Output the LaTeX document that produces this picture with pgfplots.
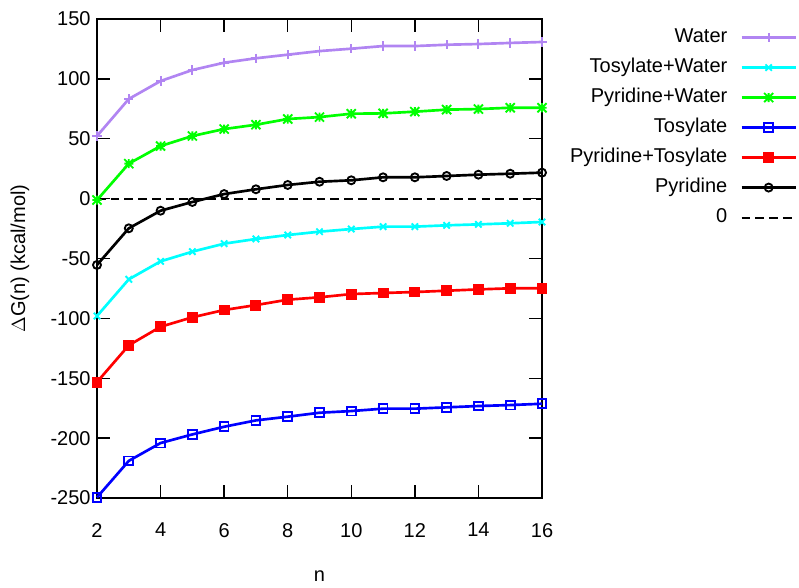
\documentclass[border=0pt]{standalone}
\usepackage{fontspec}
\setmainfont{Liberation Sans}
\usepackage{pgfplots}
\pgfplotsset{compat=1.18}
\definecolor{cWater}{HTML}{B185F2}
\definecolor{cCyan}{HTML}{00FFFF}
\definecolor{cGreen}{HTML}{00FF00}
\definecolor{cBlue}{HTML}{0000FF}
\definecolor{cRed}{HTML}{FF0000}

% gnuplot style star: plus and cross together
\pgfdeclareplotmark{gpstar}{%
  \pgfpathmoveto{\pgfpoint{-\pgfplotmarksize}{0pt}}\pgfpathlineto{\pgfpoint{\pgfplotmarksize}{0pt}}%
  \pgfpathmoveto{\pgfpoint{0pt}{-\pgfplotmarksize}}\pgfpathlineto{\pgfpoint{0pt}{\pgfplotmarksize}}%
  \pgfpathmoveto{\pgfpoint{-\pgfplotmarksize}{-\pgfplotmarksize}}\pgfpathlineto{\pgfpoint{\pgfplotmarksize}{\pgfplotmarksize}}%
  \pgfpathmoveto{\pgfpoint{-\pgfplotmarksize}{\pgfplotmarksize}}\pgfpathlineto{\pgfpoint{\pgfplotmarksize}{-\pgfplotmarksize}}%
  \pgfusepathqstroke}

\newcommand{\lblfont}{\fontsize{15}{18}\selectfont}

\begin{document}
\begin{tikzpicture}
\begin{axis}[
  at={(0,0)},anchor=south west,
  scale only axis,width=333.75pt,height=359.25pt,
  xmin=2,xmax=16,ymin=-250,ymax=150,
  xtick={2,4,...,16},ytick={-250,-200,...,150},
  tick align=inside,major tick length=9.4pt,
  tick style={black,line width=0.9pt},
  axis line style={black,line width=1pt},
  /pgf/number format/assume math mode=true,
  tick label style={font=\lblfont},
  xticklabel style={yshift=-15.3pt},
  yticklabel style={xshift=-1.3pt},
  xlabel={n},ylabel={$\Delta$G(n) (kcal/mol)},
  label style={font=\lblfont},
  xlabel style={at={(axis description cs:0.5,-0.163)},anchor=center},
  ylabel style={at={(axis description cs:-0.173,0.5)},anchor=center},
  legend plot pos=right,legend cell align=right,
  legend style={font=\lblfont,draw=none,fill=none,
    at={(axis description cs:1.573,0.980)},anchor=north east,
    inner sep=0pt,outer sep=0pt,
    nodes={inner sep=0pt,text height=10.5pt,text depth=3pt},
    row sep=9pt,column sep=9.75pt},
  legend image code/.code={\draw[mark repeat=2,mark phase=2,#1] plot coordinates {(0pt,0pt)(20.25pt,0pt)(40.5pt,0pt)};},
  every axis plot/.append style={line width=2pt,mark options={solid,line width=1.4pt}},
  unbounded coords=jump,
  clip=false
]
% inward tick marks on all four sides (about 9.4pt long)
\addplot[black,line width=1pt,mark=none,forget plot] coordinates {
  (4,-250)(4,-239.5)(nan,nan)(6,-250)(6,-239.5)(nan,nan)(8,-250)(8,-239.5)(nan,nan)
  (10,-250)(10,-239.5)(nan,nan)(12,-250)(12,-239.5)(nan,nan)(14,-250)(14,-239.5)(nan,nan)
  (4,150)(4,139.5)(nan,nan)(6,150)(6,139.5)(nan,nan)(8,150)(8,139.5)(nan,nan)
  (10,150)(10,139.5)(nan,nan)(12,150)(12,139.5)(nan,nan)(14,150)(14,139.5)(nan,nan)
  (2,-200)(2.394,-200)(nan,nan)(2,-150)(2.394,-150)(nan,nan)(2,-100)(2.394,-100)(nan,nan)
  (2,-50)(2.394,-50)(nan,nan)(2,0)(2.394,0)(nan,nan)(2,50)(2.394,50)(nan,nan)(2,100)(2.394,100)(nan,nan)
  (16,-200)(15.606,-200)(nan,nan)(16,-150)(15.606,-150)(nan,nan)(16,-100)(15.606,-100)(nan,nan)
  (16,-50)(15.606,-50)(nan,nan)(16,0)(15.606,0)(nan,nan)(16,50)(15.606,50)(nan,nan)(16,100)(15.606,100)};
\addplot[cWater,mark=+,mark size=3.5pt] coordinates {
  (2,52.3)(3,83.2)(4,98.2)(5,107.4)(6,113.5)(7,117.2)(8,120.2)(9,123.2)
  (10,125.2)(11,127.4)(12,127.4)(13,128.5)(14,129.1)(15,130.0)(16,130.8)};
\addlegendentry{Water}
\addplot[cCyan,mark=x,mark size=3.4pt] coordinates {
  (2,-98.0)(3,-67.4)(4,-52.4)(5,-44.3)(6,-37.6)(7,-33.7)(8,-30.4)(9,-27.6)
  (10,-25.4)(11,-23.4)(12,-23.4)(13,-22.3)(14,-21.5)(15,-20.6)(16,-19.5)};
\addlegendentry{Tosylate+Water}
\addplot[cGreen,mark=gpstar,mark size=3.4pt] coordinates {
  (2,-1.2)(3,29.2)(4,43.9)(5,52.3)(6,58.1)(7,61.7)(8,66.5)(9,68.1)
  (10,70.9)(11,71.2)(12,72.6)(13,74.3)(14,74.8)(15,75.9)(16,75.9)};
\addlegendentry{Pyridine+Water}
\addplot[cBlue,mark=square,mark size=3.3pt] coordinates {
  (2,-249.5)(3,-219.0)(4,-204.1)(5,-196.9)(6,-190.5)(7,-185.2)(8,-182.1)(9,-178.8)
  (10,-177.4)(11,-175.4)(12,-175.4)(13,-174.3)(14,-173.2)(15,-172.4)(16,-171.3)};
\addlegendentry{Tosylate}
\addplot[cRed,mark=square*,mark size=3.4pt] coordinates {
  (2,-153.2)(3,-122.5)(4,-107.0)(5,-99.1)(6,-93.0)(7,-88.9)(8,-84.4)(9,-82.4)
  (10,-79.7)(11,-78.8)(12,-78.0)(13,-76.9)(14,-75.8)(15,-74.9)(16,-74.9)};
\addlegendentry{Pyridine+Tosylate}
\addplot[black,mark=o,mark size=3pt] coordinates {
  (2,-55.4)(3,-24.8)(4,-10.1)(5,-2.8)(6,3.8)(7,7.8)(8,11.4)(9,14.1)
  (10,15.3)(11,17.8)(12,17.8)(13,18.9)(14,20.0)(15,20.8)(16,21.7)};
\addlegendentry{Pyridine}
\addplot[black,line width=1.6pt,dash pattern=on 6.5pt off 3.8pt] coordinates {(2,0)(16,0)};
\addlegendentry{0}
\end{axis}
\path (-72.75pt,-67.5pt) rectangle (526.5pt,373.5pt);
\end{tikzpicture}
\end{document}
